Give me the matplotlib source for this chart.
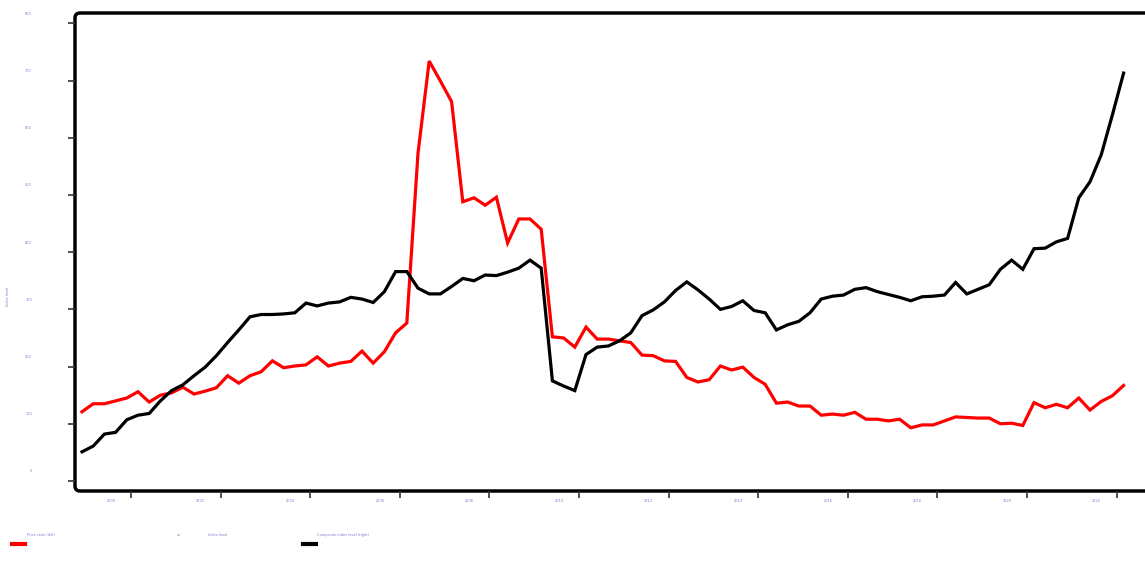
import matplotlib
matplotlib.use("Agg")
import matplotlib.pyplot as plt
from matplotlib.patches import FancyBboxPatch
from matplotlib.lines import Line2D
from matplotlib.transforms import ScaledTranslation

# quarterly observations, 94 points
red_values = [121, 135, 135, 140, 145, 156, 138, 150, 154, 164,
              152, 157, 163, 184, 171, 184, 191, 210, 198, 201,
              203, 217, 201, 206, 209, 227, 206, 226, 259, 276,
              573, 734, 699, 663, 488, 495, 482, 496, 416, 458,
              458, 440, 252, 250, 234, 269, 248, 248, 245, 242,
              220, 219, 210, 209, 181, 173, 177, 201, 194, 199,
              181, 169, 136, 138, 131, 131, 115, 117, 115, 120,
              108, 108, 105, 108, 93, 98, 98, 105, 112, 111,
              110, 110, 100, 101, 97, 137, 128, 134, 128, 145,
              124, 139, 149, 167]
black_values = [51, 61, 82, 85, 107, 115, 118, 140, 158, 168,
                184, 199, 219, 242, 264, 287, 291, 291, 292, 294,
                311, 306, 311, 313, 321, 318, 312, 331, 366, 366,
                337, 327, 327, 340, 354, 350, 360, 359, 365, 372,
                386, 372, 175, 166, 158, 221, 234, 236, 245, 259,
                289, 299, 313, 333, 348, 334, 318, 300, 305, 315,
                298, 294, 264, 273, 279, 294, 318, 323, 325, 335,
                338, 331, 326, 321, 315, 322, 323, 325, 347, 327,
                335, 343, 370, 386, 370, 406, 407, 418, 424, 495,
                523, 570, 640, 713]
year_labels = ['2000', '2002', '2004', '2006', '2008', '2010',
               '2012', '2014', '2016', '2018', '2020', '2022']
y_ticks = [0, 100, 200, 300, 400, 500, 600, 700, 800]

label_color = '#7b7bcc'
W, H = 1145, 561
fig = plt.figure(figsize=(W / 100, H / 100), dpi=100)
ax_l, ax_r, ax_t, ax_b = 75, 1160, 13, 491
ax = fig.add_axes([ax_l / W, (H - ax_b) / H, (ax_r - ax_l) / W, (ax_b - ax_t) / H])

x = list(range(len(red_values)))
ax.plot(x, red_values, color='#ff0000', lw=2.3, solid_joinstyle='miter')
ax.plot(x, black_values, color='black', lw=2.3, solid_joinstyle='miter')

ax.set_xlim(-0.625, -0.625 + (ax_r - ax_l) / 11.2)
ax.set_ylim(-17.5, 818)

# tick marks between the year labels, labels shifted left of them
ax.set_xticks([4.375 + 8 * k for k in range(12)], minor=True)
ax.set_xticks([2.59 + 8 * k for k in range(12)])
ax.set_xticklabels(year_labels, fontsize=2.5, color=label_color)
ax.tick_params(axis='x', which='major', length=0, pad=5.5)
ax.tick_params(axis='x', which='minor', length=5, width=1.2, color='#333333')

ax.set_yticks(y_ticks)
ax.set_yticklabels([str(v) for v in y_ticks], fontsize=2.5, color=label_color)
ax.tick_params(axis='y', length=5, width=1.2, color='#333333', pad=26)
for lab in ax.get_yticklabels():
    lab.set_transform(lab.get_transform() + ScaledTranslation(0, 0.10, fig.dpi_scale_trans))

fig.text(8 / W, 1 - 296 / H, 'Index level', rotation=90, fontsize=2.5,
         color=label_color, ha='center', va='center')

for s in ax.spines.values():
    s.set_visible(False)
frame_w, frame_h = ax_r - ax_l, ax_b - ax_t
frame = FancyBboxPatch((0, 0), 1, 1, boxstyle='round,pad=0,rounding_size=%f' % (5 / frame_w),
                       mutation_aspect=frame_w / frame_h, transform=ax.transAxes,
                       fill=False, lw=2.5, edgecolor='black', clip_on=False)
ax.add_patch(frame)

# legend drawn below the chart
fig.add_artist(Line2D([12 / W, 25 / W], [1 - 544 / H] * 2, color='#ff0000', lw=3))
fig.text(27 / W, 1 - 535 / H, 'Price ratio (left)', fontsize=2.5, color=label_color, va='center')
fig.text(177 / W, 1 - 535 / H, 'vs', fontsize=2.5, color=label_color, va='center')
fig.text(208 / W, 1 - 535 / H, 'Index level', fontsize=2.5, color=label_color, va='center')
fig.add_artist(Line2D([303 / W, 316 / W], [1 - 544 / H] * 2, color='black', lw=3))
fig.text(317 / W, 1 - 535 / H, 'Composite index level (right)', fontsize=2.5,
         color=label_color, va='center')

fig.savefig('out.png', dpi=100)
